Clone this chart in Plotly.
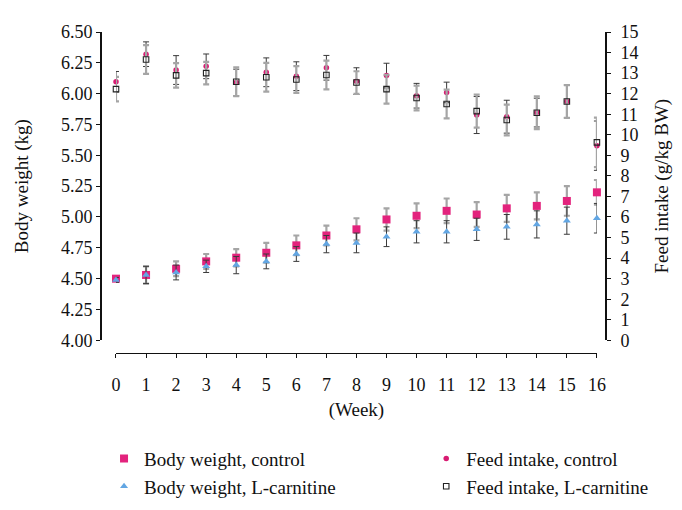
import plotly.graph_objects as go

weeks = list(range(17))

# body weight (kg)
bw_control = [4.50, 4.53, 4.58, 4.64, 4.67, 4.71, 4.77, 4.85, 4.90, 4.98, 5.01, 5.05, 5.02, 5.07, 5.09, 5.13, 5.20]
bw_control_sd = [0.02, 0.07, 0.06, 0.06, 0.07, 0.08, 0.08, 0.08, 0.09, 0.09, 0.10, 0.10, 0.10, 0.11, 0.11, 0.12, 0.10]
bw_lcarn = [4.49, 4.53, 4.55, 4.60, 4.61, 4.64, 4.70, 4.78, 4.79, 4.84, 4.88, 4.88, 4.90, 4.92, 4.94, 4.97, 4.99]
bw_lcarn_sd = [0.02, 0.07, 0.06, 0.05, 0.07, 0.06, 0.06, 0.07, 0.08, 0.08, 0.09, 0.09, 0.09, 0.10, 0.11, 0.11, 0.12]

# feed intake (g/kg BW)
fi_control = [12.58, 13.92, 13.15, 13.33, 12.54, 13.04, 12.85, 13.26, 12.61, 12.88, 11.90, 12.06, 10.96, 10.88, 11.08, 11.62, 9.47]
fi_control_sd = [0.5, 0.6, 0.7, 0.6, 0.65, 0.7, 0.7, 0.6, 0.65, 0.6, 0.6, 0.5, 0.9, 0.8, 0.7, 0.8, 1.2]
fi_lcarn = [12.22, 13.66, 12.89, 13.00, 12.58, 12.80, 12.69, 12.91, 12.54, 12.22, 11.79, 11.50, 11.15, 10.72, 11.07, 11.62, 9.63]
fi_lcarn_sd = [0.6, 0.7, 0.6, 0.55, 0.7, 0.7, 0.65, 0.7, 0.55, 0.7, 0.6, 0.7, 0.8, 0.75, 0.8, 0.8, 1.2]

bw_ticks = [4 + 0.25 * i for i in range(11)]

serif = "Liberation Serif"
pink = "#e3237d"
blue = "#62a6e3"

fig = go.Figure()

fig.add_trace(go.Scatter(
    x=weeks, y=fi_control, yaxis="y2", mode="markers", name="Feed intake, control",
    marker=dict(symbol="circle", size=5.5, color="#d81b72"),
    error_y=dict(type="data", array=fi_control_sd, color="#3a3a3a", thickness=1, width=3),
    legend="legend2", cliponaxis=False,
))
fig.add_trace(go.Scatter(
    x=weeks, y=fi_lcarn, yaxis="y2", mode="markers", name="Feed intake, L-carnitine",
    marker=dict(symbol="square-open", size=5.5, color="#222222", line=dict(width=1.1)),
    error_y=dict(type="data", array=fi_lcarn_sd, color="#a5a5a5", thickness=2.2, width=3),
    legend="legend2", cliponaxis=False,
))
fig.add_trace(go.Scatter(
    x=weeks, y=bw_control, mode="markers", name="Body weight, control",
    marker=dict(symbol="square", size=8, color=pink),
    error_y=dict(type="data", array=bw_control_sd, color="#a5a5a5", thickness=2.2, width=3),
    legend="legend", cliponaxis=False,
))
fig.add_trace(go.Scatter(
    x=weeks, y=bw_lcarn, mode="markers", name="Body weight, L-carnitine",
    marker=dict(symbol="triangle-up", size=7, color=blue),
    error_y=dict(type="data", array=bw_lcarn_sd, color="#3a3a3a", thickness=1, width=3),
    legend="legend", cliponaxis=False,
))

axis_font = dict(family=serif, size=18, color="#111111")
title_font = dict(family=serif, size=19, color="#111111")

fig.update_layout(
    width=682,
    height=510,
    margin=dict(l=93, r=84, t=24, b=157),
    plot_bgcolor="white",
    paper_bgcolor="white",
    font=axis_font,
    xaxis=dict(
        domain=[0.0297, 0.982],
        range=[0, 16],
        anchor="free",
        position=0,
        tickmode="array",
        tickvals=weeks,
        ticks="outside",
        ticklen=4,
        tickcolor="#111111",
        showline=True,
        linecolor="#111111",
        linewidth=1.2,
        showgrid=False,
        zeroline=False,
        ticklabelstandoff=11,
        title=dict(text="(Week)", font=title_font, standoff=8),
    ),
    yaxis=dict(
        domain=[0.0395, 1],
        range=[4, 6.5],
        anchor="free",
        position=0,
        tickmode="array",
        tickvals=bw_ticks,
        tickformat=".2f",
        ticks="outside",
        ticklen=4,
        tickcolor="#111111",
        showline=True,
        linecolor="#111111",
        linewidth=1.8,
        showgrid=False,
        zeroline=False,
        title=dict(text="Body weight (kg)", font=title_font, standoff=26),
    ),
    yaxis2=dict(
        domain=[0.0395, 1],
        range=[0, 15],
        overlaying="y",
        side="right",
        anchor="free",
        position=1,
        dtick=1,
        ticks="outside",
        ticklen=4,
        tickcolor="#111111",
        showline=True,
        linecolor="#111111",
        linewidth=1.8,
        showgrid=False,
        zeroline=False,
        ticklabelstandoff=6,
        title=dict(text="Feed intake (g/kg BW)", font=title_font, standoff=16),
    ),
    legend=dict(
        x=0.006, y=-0.27, xanchor="left", yanchor="top",
        font=dict(family=serif, size=19, color="#111111"),
        itemwidth=30, tracegroupgap=0, traceorder="normal",
    ),
    legend2=dict(
        x=0.644, y=-0.27, xanchor="left", yanchor="top",
        font=dict(family=serif, size=19, color="#111111"),
        itemwidth=30, tracegroupgap=0, traceorder="normal",
    ),
    showlegend=True,
)

fig.write_html("out.html")
